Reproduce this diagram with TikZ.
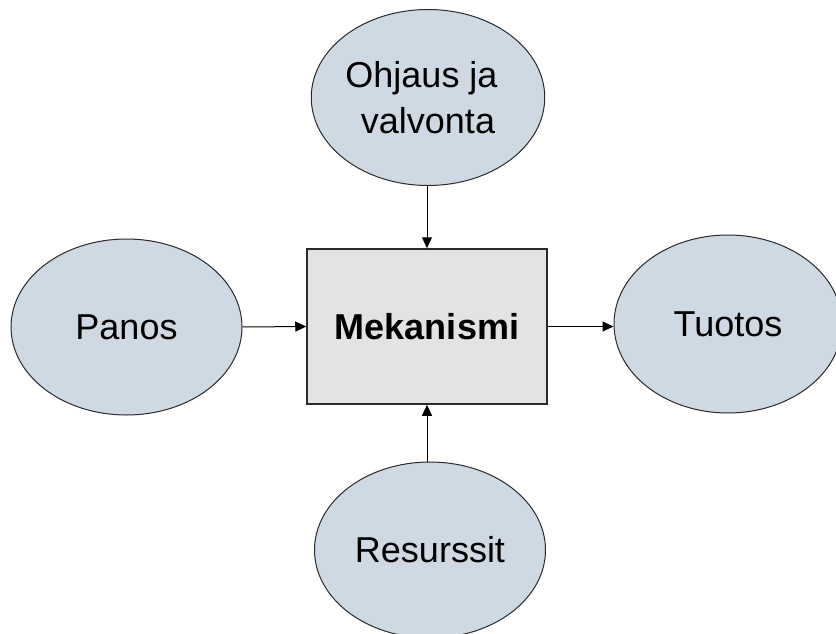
\documentclass[tikz,border=0pt]{standalone}
\usepackage{fontspec}
\setmainfont{Liberation Sans}
\usetikzlibrary{arrows.meta,shapes.geometric}
\definecolor{ellfill}{HTML}{CFD9E3}
\definecolor{boxfill}{HTML}{E3E3E3}
\definecolor{edge}{HTML}{2A2A2A}
\tikzset{
  oval/.style={ellipse, draw=edge, line width=1pt, fill=ellfill, inner sep=0pt,
    minimum width=231pt, minimum height=176pt, align=center,
    font=\fontsize{36}{46}\selectfont},
  mech/.style={rectangle, draw=edge, line width=1.5pt, fill=boxfill, inner sep=0pt,
    minimum width=240pt, minimum height=155pt, font=\fontsize{36}{46}\selectfont\bfseries},
  conn/.style={draw=black, line width=1pt, -{Triangle[length=11pt,width=10pt]}}
}
\begin{document}
\begin{tikzpicture}[x=1pt,y=-1pt]
\clip (0,0) rectangle (836,634);
\fill[white] (0,0) rectangle (836,634);
\node[mech] (mek) at (427,326.5) {Mekanismi};
\node[oval] (ohj) at (428,97.5) {Ohjaus ja\hspace*{13pt}\\valvonta};
\node[oval] (pan) at (126.5,327) {Panos};
\node[oval, minimum width=228pt, minimum height=178pt] (tuo) at (728,324) {Tuotos};
\node[oval] (res) at (430,550) {Resurssit};
\draw[conn] (ohj.south -| mek.north) -- (mek.north);
\draw[conn] (pan.east) -- (mek.west);
\draw[conn] (mek.east) -- (mek.east -| tuo.west);
\draw[conn] (res.north -| mek.south) -- (mek.south);
\end{tikzpicture}
\end{document}
